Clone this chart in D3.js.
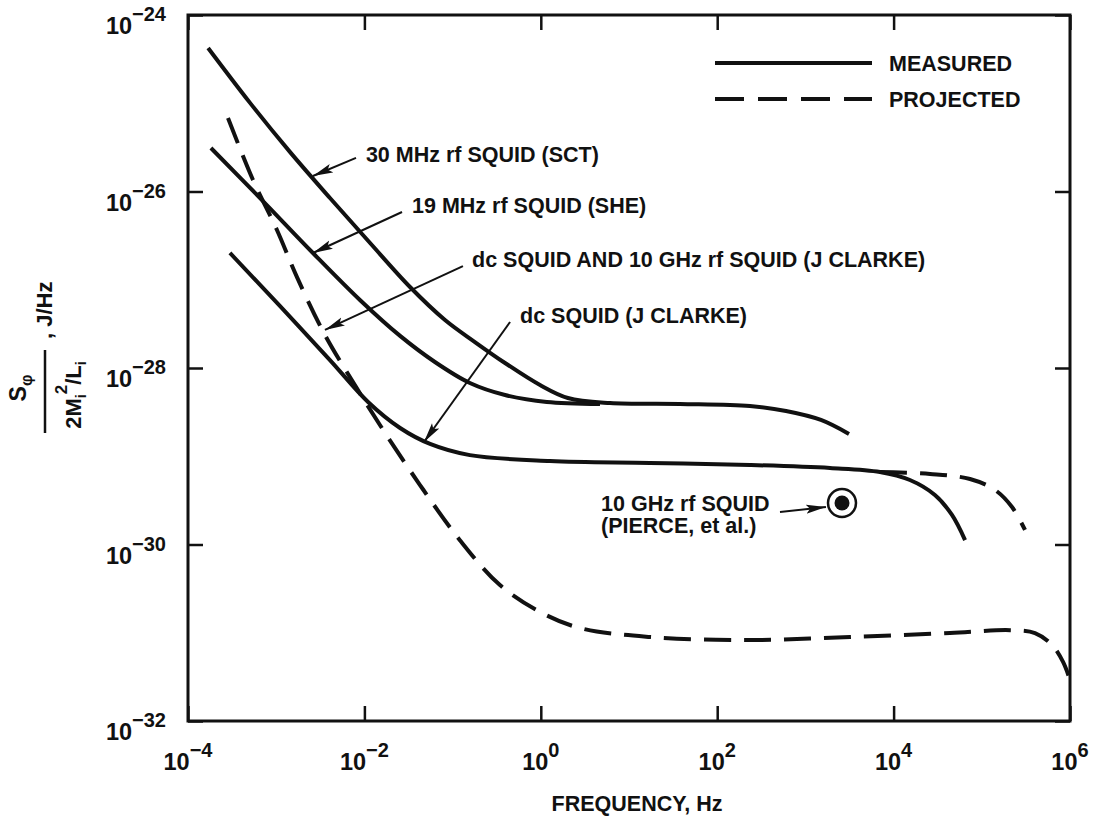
<!DOCTYPE html>
<html><head><meta charset="utf-8">
<script src="https://cdn.jsdelivr.net/npm/d3@7"></script>
<style>
body{margin:0;background:#fff}
svg{display:block}
text{font-family:"Liberation Sans",Arial,sans-serif;font-weight:bold;fill:#111}
</style>
</head><body>
<svg id="chart" width="1097" height="817"></svg>
<script>
// ---- axis ticks ----
const xTickValues = [1e-4, 1e-2, 1e0, 1e2, 1e4, 1e6];
const xTickExponents = ["\u22124", "\u22122", "0", "2", "4", "6"];
const yTickValues = [1e-32, 1e-30, 1e-28, 1e-26, 1e-24];
const yTickExponents = ["\u221232", "\u221230", "\u221228", "\u221226", "\u221224"];

// ---- 30 MHz rf SQUID (SCT), measured ----
const sct30Freq = [1.69e-4, 5.05e-4, 1.43e-3, 4.07e-3, 1.16e-2, 3.29e-2, 8.2e-2, 0.179, 0.393, 0.98, 2.03, 6.1, 37.8, 235, 603, 1500, 3120];
const sct30S = [4.23e-25, 1.01e-25, 2.81e-26, 8.43e-27, 2.61e-27, 8.28e-28, 3.5e-28, 1.97e-28, 1.14e-28, 6.41e-29, 4.57e-29, 4.01e-29, 3.91e-29, 3.71e-29, 3.26e-29, 2.58e-29, 1.79e-29];

// ---- 19 MHz rf SQUID (SHE), measured ----
const she19Freq = [1.82e-4, 6.9e-4, 2.61e-3, 8.9e-3, 2.54e-2, 6.3e-2, 0.157, 0.393, 1.17, 4.69];
const she19S = [3.11e-26, 8.0e-27, 2.01e-27, 5.9e-28, 2.31e-28, 1.17e-28, 6.76e-29, 4.94e-29, 4.12e-29, 3.91e-29];

// ---- dc SQUID (J CLARKE), measured ----
const dcFreq = [2.99e-4, 1.10e-3, 4.07e-3, 1.10e-2, 2.54e-2, 5.55e-2, 0.157, 1.27, 17.3, 235, 1900, 7010, 1.53e4, 2.94e4, 4.59e4, 6.46e4];
const dcS = [2.01e-27, 5.05e-28, 1.23e-28, 4.12e-29, 2.09e-29, 1.38e-29, 1.03e-29, 8.83e-30, 8.4e-30, 7.96e-30, 7.36e-30, 6.64e-30, 5.38e-30, 3.64e-30, 2.16e-30, 1.12e-30];

// ---- dc SQUID, projected extension ----
const dcProjFreq = [7010, 2.59e4, 7.35e4, 1.41e5, 2.2e5, 3.09e5];
const dcProjS = [6.64e-30, 6.3e-30, 5.52e-30, 4.15e-30, 2.66e-30, 1.46e-30];

// ---- dc SQUID AND 10 GHz rf SQUID (J CLARKE), projected ----
const projFreq = [2.84e-4, 5.46e-4, 1.02e-3, 1.72e-3, 3.57e-3, 7.8e-3, 1.50e-2, 4.27e-2, 0.121, 0.344, 0.98, 2.78, 17.3, 235, 3210, 4.36e4, 2.09e5, 4.01e5, 6.25e5, 8.34e5, 1e6];
const projS = [6.8e-26, 1.35e-26, 3.66e-27, 1.07e-27, 2.37e-28, 6.4e-29, 2.26e-29, 4.72e-30, 1.12e-30, 3.47e-31, 1.72e-31, 1.13e-31, 8.96e-32, 8.28e-32, 8.96e-32, 9.93e-32, 1.07e-31, 9.93e-32, 7.26e-32, 4.67e-32, 2.92e-32];

// ---- 10 GHz rf SQUID (PIERCE, et al.) point ----
const pierceFreq = [2600];
const pierceS = [2.95e-30];

// ---- annotations ----
const labelTexts = ["30 MHz rf SQUID (SCT)", "19 MHz rf SQUID (SHE)", "dc SQUID AND 10 GHz rf SQUID (J CLARKE)", "dc SQUID (J CLARKE)", "10 GHz rf SQUID", "(PIERCE, et al.)"];
const labelFreq = [1.04e-2, 3.47e-2, 0.166, 0.581, 4.82, 4.82];
const labelS = [2.16e-26, 5.7e-27, 1.39e-27, 3.24e-28, 2.4e-30, 1.35e-30];
const arrowTailFreq = [8.03e-3, 2.67e-2, 0.131, 0.448, 515];
const arrowTailS = [2.4e-26, 5.86e-27, 1.43e-27, 3.32e-28, 2.33e-30];
const arrowHeadFreq = [2.61e-3, 2.61e-3, 3.57e-3, 4.74e-2, 1710];
const arrowHeadS = [1.5e-26, 2.01e-27, 2.7e-28, 1.45e-29, 2.66e-30];

const legendLabels = ["MEASURED", "PROJECTED"];

// ---------------------------------------------------------------
const ink = "#111";
const svg = d3.select("#chart");
const x = d3.scaleLog().domain([1e-4, 1e6]).range([188, 1070]);
const y = d3.scaleLog().domain([1e-32, 1e-24]).range([721, 15]);

const defs = svg.append("defs");
defs.append("marker").attr("id", "arrow")
  .attr("markerUnits", "userSpaceOnUse")
  .attr("markerWidth", 22).attr("markerHeight", 10)
  .attr("refX", 20).attr("refY", 5).attr("orient", "auto")
  .append("path").attr("d", "M0,0.5 L20,5 L0,9.5 L4,5 Z").attr("fill", ink);

// axes ticks (inward on all four sides)
const tick = 15;
function styleAxis(g) {
  g.select(".domain").remove();
  g.selectAll(".tick line").attr("stroke", ink).attr("stroke-width", 2.5);
  g.selectAll(".tick text").remove();
}
svg.append("g").attr("transform", `translate(0,${y(1e-32)})`)
  .call(d3.axisBottom(x).tickValues(xTickValues).tickSizeInner(-tick).tickSizeOuter(0)).call(styleAxis);
svg.append("g").attr("transform", `translate(0,${y(1e-24)})`)
  .call(d3.axisTop(x).tickValues(xTickValues).tickSizeInner(-tick).tickSizeOuter(0)).call(styleAxis);
svg.append("g").attr("transform", `translate(${x(1e-4)},0)`)
  .call(d3.axisLeft(y).tickValues(yTickValues).tickSizeInner(-tick).tickSizeOuter(0)).call(styleAxis);
svg.append("g").attr("transform", `translate(${x(1e6)},0)`)
  .call(d3.axisRight(y).tickValues(yTickValues).tickSizeInner(-tick).tickSizeOuter(0)).call(styleAxis);

// frame
svg.append("rect")
  .attr("x", x(1e-4)).attr("y", y(1e-24))
  .attr("width", x(1e6) - x(1e-4)).attr("height", y(1e-32) - y(1e-24))
  .attr("fill", "none").attr("stroke", ink).attr("stroke-width", 3);

// tick labels
xTickValues.forEach((v, i) => {
  const t = svg.append("text").attr("x", x(v)).attr("y", y(1e-32) + 49)
    .attr("text-anchor", "middle").style("font-size", "23.5px");
  t.append("tspan").text("10");
  t.append("tspan").attr("dy", -13).style("font-size", "20px").text(xTickExponents[i]);
});
yTickValues.forEach((v, i) => {
  const t = svg.append("text").attr("x", 166).attr("y", y(v) + 19)
    .attr("text-anchor", "end").style("font-size", "23.5px");
  t.append("tspan").text("10");
  t.append("tspan").attr("dy", -13).style("font-size", "20px").text(yTickExponents[i]);
});

// axis titles
svg.append("text").attr("x", 637).attr("y", 811).attr("text-anchor", "middle")
  .style("font-size", "21.5px").text("FREQUENCY, Hz");

const yt = svg.append("g").attr("transform", "translate(45,391) rotate(-90)");
yt.append("line").attr("x1", -42).attr("x2", 41).attr("y1", 0).attr("y2", 0)
  .attr("stroke", ink).attr("stroke-width", 2.5);
const num = yt.append("text").attr("x", 3).attr("y", -19).attr("text-anchor", "middle").style("font-size", "23px");
num.append("tspan").text("S");
num.append("tspan").attr("dy", 6).style("font-size", "16px").text("\u03c6");
const den = yt.append("text").attr("x", -4).attr("y", 36).attr("text-anchor", "middle").style("font-size", "22px");
den.append("tspan").text("2M");
den.append("tspan").attr("dy", 5).style("font-size", "14px").text("i");
den.append("tspan").attr("dy", -19).style("font-size", "17px").text("2");
den.append("tspan").attr("dy", 14).text("/L");
den.append("tspan").attr("dy", 5).style("font-size", "14px").text("i");
yt.append("text").attr("x", 52).attr("y", 7).style("font-size", "22px").text(", J/Hz");

// curves
const line = d3.line().x(d => x(d[0])).y(d => y(d[1])).curve(d3.curveCatmullRom.alpha(0.5));
function drawCurve(fr, s, dashed) {
  svg.append("path").datum(fr.map((f, i) => [f, s[i]]))
    .attr("d", line).attr("fill", "none").attr("stroke", ink)
    .attr("stroke-width", 4).attr("stroke-linecap", "butt").attr("stroke-linejoin", "round")
    .attr("stroke-dasharray", dashed ? "27,13" : null);
}
drawCurve(sct30Freq, sct30S, false);
drawCurve(she19Freq, she19S, false);
drawCurve(dcFreq, dcS, false);
drawCurve(dcProjFreq, dcProjS, true);
drawCurve(projFreq, projS, true);

// PIERCE point
pierceFreq.forEach((f, i) => {
  svg.append("circle").attr("cx", x(f)).attr("cy", y(pierceS[i])).attr("r", 14)
    .attr("fill", "#fff").attr("stroke", ink).attr("stroke-width", 2.5);
  svg.append("circle").attr("cx", x(f)).attr("cy", y(pierceS[i])).attr("r", 7.5).attr("fill", ink);
});

// annotation arrows and labels
arrowTailFreq.forEach((f, i) => {
  svg.append("line")
    .attr("x1", x(f)).attr("y1", y(arrowTailS[i]))
    .attr("x2", x(arrowHeadFreq[i])).attr("y2", y(arrowHeadS[i]))
    .attr("stroke", ink).attr("stroke-width", 2).attr("marker-end", "url(#arrow)");
});
labelTexts.forEach((t, i) => {
  svg.append("text").attr("x", x(labelFreq[i])).attr("y", y(labelS[i]))
    .style("font-size", "21.5px").text(t);
});

// legend
const legendY = [63, 99];
legendLabels.forEach((t, i) => {
  svg.append("line").attr("x1", 715).attr("x2", 872).attr("y1", legendY[i]).attr("y2", legendY[i])
    .attr("stroke", ink).attr("stroke-width", 4)
    .attr("stroke-dasharray", i === 1 ? "29,14" : null);
  svg.append("text").attr("x", 889).attr("y", legendY[i] + 8).style("font-size", "21.5px").text(t);
});
</script>
</body></html>
